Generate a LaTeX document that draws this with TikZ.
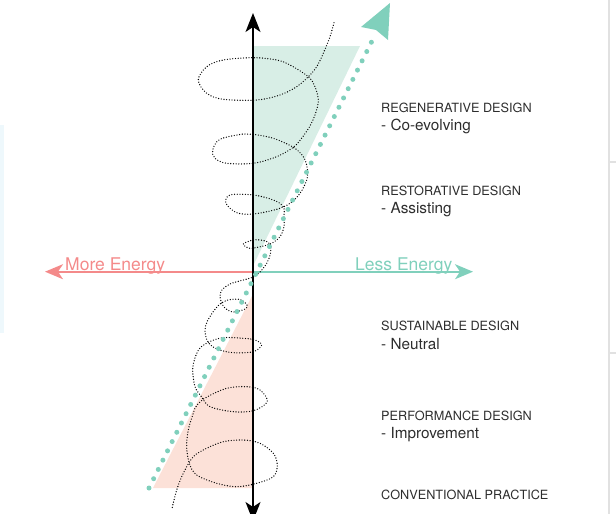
\documentclass[tikz,border=0pt]{standalone}
\usepackage{fontspec}
\setmainfont{TeX Gyre Heros}
\usetikzlibrary{arrows.meta}
\definecolor{pinkc}{RGB}{244,138,138}
\definecolor{tealc}{RGB}{128,208,188}
\definecolor{mintc}{RGB}{216,238,230}
\definecolor{peachc}{RGB}{252,225,216}
\definecolor{textc}{RGB}{45,45,45}
\definecolor{edgec}{RGB}{225,225,225}
\definecolor{faintblue}{RGB}{238,248,252}
\begin{document}
\begin{tikzpicture}[x=1pt,y=-1pt,
  capslab/.style={anchor=base west,inner sep=0pt,text=textc,font=\fontsize{12.7}{14}\selectfont},
  sublab/.style={anchor=base west,inner sep=0pt,text=textc,font=\fontsize{15.3}{17}\selectfont},
  energylab/.style={anchor=base west,inner sep=0pt,font=\fontsize{17.5}{20}\selectfont},
  axisline/.style={line width=1.3pt,black,{Stealth[length=19pt,width=15pt,inset=5pt]}-{Stealth[length=19pt,width=15pt,inset=5pt]}},
  pinkarrow/.style={line width=1.6pt,draw=pinkc,fill=pinkc,-{Stealth[length=18pt,width=15pt,inset=5pt]}},
  tealarrow/.style={line width=1.6pt,draw=tealc,fill=tealc,-{Stealth[length=18pt,width=15pt,inset=5pt]}},
  tealdots/.style={tealc,line width=5pt,line cap=round,dash pattern=on 0pt off 10.378pt},
  spiral/.style={black,line width=1.35pt,line cap=round,dash pattern=on 0pt off 2.7pt}
]
\useasboundingbox (0,0) rectangle (616,514);
% faint page edges
\fill[faintblue] (0,125) rectangle (4,333);
\draw[edgec,line width=1.5pt] (609,0) -- (609,514);
\draw[edgec,line width=1.2pt] (609,162) -- (616,162);
\draw[edgec,line width=1.2pt] (609,353) -- (616,353);
% triangles
\fill[mintc] (253,46) -- (360,46) -- (253,266) -- cycle;
\fill[peachc] (253,294) -- (253,488) -- (153,488) -- cycle;
% coordinates
\coordinate (O) at (253,271.7);
\coordinate (Ltip) at (45,271.7);
\coordinate (Rtip) at (473,271.7);
\coordinate (Top) at (253,13);
\coordinate (Bot) at (253,521);
\coordinate (D1) at (149,488);
\coordinate (D2) at (376,33);
% horizontal arrows
\draw[pinkarrow] (O) -- (Ltip);
\draw[tealarrow] (O) -- (Rtip);
\node[energylab,text=pinkc] (more) at (65,270.5) {More Energy};
\node[energylab,text=tealc] (less) at (355,270.5) {Less Energy};
% vertical axis
\draw[axisline] (Bot) -- (Top);
% spiral
\draw[spiral] plot[smooth,tension=0.55] coordinates {
(334,22.7) (330,36.7) (323.3,53.3) (316.7,66.7) (308.3,76.7) (296.7,86.7) (280,95) (256.7,100)
(223.3,99.3) (206.7,93.3) (198.3,80) (206.7,66.7) (223.3,60) (253.3,57.7) (276.7,60) (290,65)
(308.3,76.7) (315,86.7) (318.3,100) (316,112) (310,126) (301,139) (293.3,147.3) (276.7,156.7)
(253.3,163.3) (226.7,163.3) (215,158.3) (212.7,150) (220,139.3) (243.3,134) (253.3,134.3)
(273.3,138.3) (293.3,147.3) (303.3,156.7) (307.3,168.3) (306.7,180) (300,193.3) (290,203.3)
(276.7,209.3) (253.3,214) (236.7,212.7) (226,203.3) (230,195) (253.3,195) (273.3,200)
(283.3,206.7) (284,216.7) (284,226.7) (280,236.7) (271.7,243.3) (263.3,246) (250,248.3)
(243.3,244) (253.3,240) (263.3,240.5) (270,244) (270.5,253.3) (266.7,263.3) (260,272)
(253.3,277) (243.3,280) (230,284) (222,290) (220,297) (224,307) (233,312) (245,309) (247,305)
(240,299.5) (228,300) (220,304) (213,312) (207,322) (205,331) (208,342) (217,349)
(233.3,352.7) (253.3,351.7) (261.7,345) (255,340) (243.3,338.3) (223.3,337.7) (210,341.5)
(200,348) (195,358) (192.7,370) (195,386.7) (201.7,397) (210,406.7) (233.3,411.7)
(253.3,410.7) (267.3,401.7) (260,390) (246.7,386.7) (226.7,388.3) (207,397) (197,405)
(193.3,413.3) (188.3,430) (186.7,446.7) (189.3,463.3) (196.7,475) (216.7,483.3)
(236.7,486.7) (256.7,483.3) (273.3,476.7) (277.3,465) (273.3,453.3) (260,443.3)
(243.3,440) (223.3,441.7) (206.7,448.3) (193.3,456.7) (183.3,473.3) (176.7,490) (171.7,510)};
% teal dotted arrow
\draw[tealdots] (D1) -- (D2);
\fill[tealc] (390,3) -- (361,27) -- (376,30) -- (388,40) -- cycle;
% labels
\node[capslab] (reg) at (381,112) {REGENERATIVE DESIGN};
\node[sublab] (regs) at (381,130) {- Co-evolving};
\node[capslab] (res) at (381,195) {RESTORATIVE DESIGN};
\node[sublab] (ress) at (381,213.5) {- Assisting};
\node[capslab] (sus) at (381,330.5) {SUSTAINABLE DESIGN};
\node[sublab] (suss) at (381,349) {- Neutral};
\node[capslab] (per) at (381,420) {PERFORMANCE DESIGN};
\node[sublab] (pers) at (381,438.5) {- Improvement};
\node[capslab] (con) at (381,499) {CONVENTIONAL PRACTICE};
\end{tikzpicture}
\end{document}
